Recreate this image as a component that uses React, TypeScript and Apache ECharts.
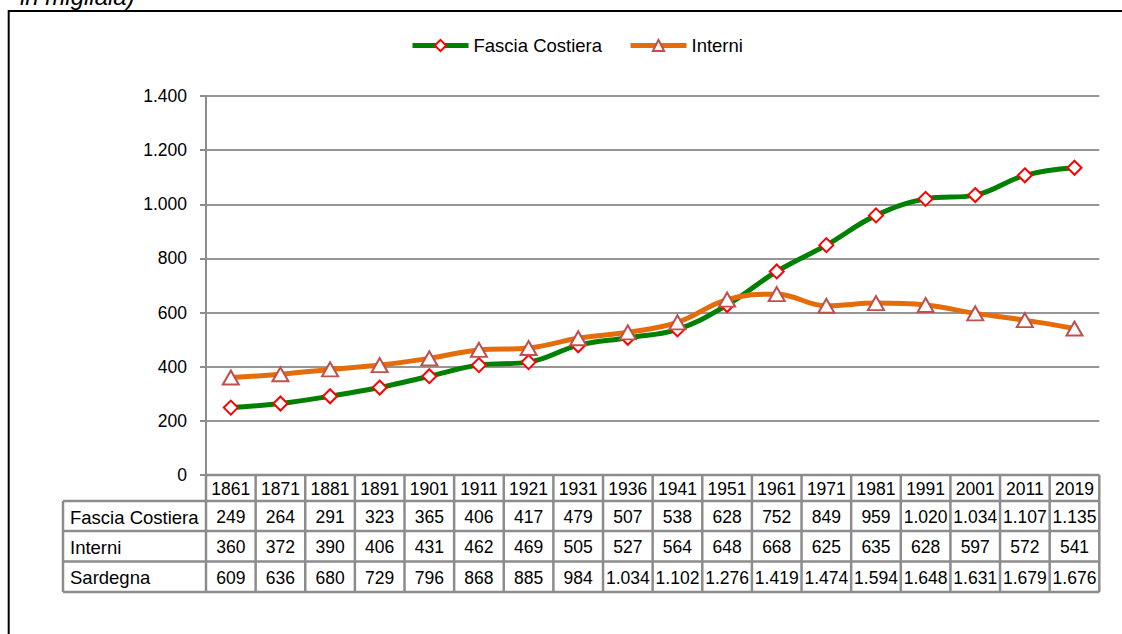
import React, { useEffect, useRef } from "react";
import * as echarts from "echarts";

const years = ["1861", "1871", "1881", "1891", "1901", "1911", "1921", "1931", "1936", "1941", "1951", "1961", "1971", "1981", "1991", "2001", "2011", "2019"];
const fascia = [249, 264, 291, 323, 365, 406, 417, 479, 507, 538, 628, 752, 849, 959, 1020, 1034, 1107, 1135];
const interni = [360, 372, 390, 406, 431, 462, 469, 505, 527, 564, 648, 668, 625, 635, 628, 597, 572, 541];
const sardegna = [609, 636, 680, 729, 796, 868, 885, 984, 1034, 1102, 1276, 1419, 1474, 1594, 1648, 1631, 1679, 1676];
const seriesNames = ["Fascia Costiera", "Interni"];
const tableRowNames = ["Fascia Costiera", "Interni", "Sardegna"];
const titleText = "in migliaia)";

const FONT = '"Liberation Sans", Arial, sans-serif';
const FS = 17.5;
const FS_NAME = 18.5;

const fmt = (v: number) => String(v).replace(/\B(?=(\d{3})+(?!\d))/g, ".");

export default function App() {
  const ref = useRef<HTMLDivElement>(null);
  useEffect(() => {
    const chart = echarts.init(ref.current!, null, { renderer: "svg" });
    const gridLeft = 206;
    const gridRight = 1099.3;
    const gridTop = 96;
    const gridBottom = 475;
    chart.setOption({
      animation: false,
      textStyle: { fontFamily: FONT },
      grid: { left: gridLeft, right: 1122 - gridRight, top: gridTop, bottom: 634 - gridBottom, containLabel: false },
      legend: {
        data: seriesNames,
        left: 410,
        top: 36,
        padding: 0,
        itemWidth: 56,
        itemHeight: 14,
        itemGap: 26,
        lineStyle: { width: 5 },
        textStyle: { fontSize: FS_NAME, color: "#000", fontFamily: FONT },
      },
      xAxis: {
        type: "category",
        data: years,
        boundaryGap: true,
        axisLine: { show: false },
        axisTick: { show: false },
        axisLabel: { show: false },
        splitLine: { show: false },
      },
      yAxis: {
        type: "value",
        min: 0,
        max: 1400,
        interval: 200,
        axisLine: { show: true, lineStyle: { color: "#8c8c8c", width: 2 } },
        axisTick: { show: true, length: 6, lineStyle: { color: "#8c8c8c", width: 2 } },
        axisLabel: { formatter: fmt, color: "#000", fontSize: FS, fontFamily: FONT, margin: 19 },
        splitLine: { show: true, lineStyle: { color: "#969696", width: 2 } },
      },
      series: [
        {
          name: seriesNames[0],
          type: "line",
          data: fascia,
          smooth: 0.4,
          showAllSymbol: true,
          symbol: "diamond",
          symbolSize: 14,
          color: "#008000",
          lineStyle: { color: "#008000", width: 5 },
          itemStyle: { color: "#ffffff", borderColor: "#ff0000", borderWidth: 2 },
        },
        {
          name: seriesNames[1],
          type: "line",
          data: interni,
          smooth: 0.4,
          showAllSymbol: true,
          symbol: "triangle",
          symbolSize: [16, 14],
          color: "#E46C0A",
          lineStyle: { color: "#E46C0A", width: 5 },
          itemStyle: { color: "#ffffff", borderColor: "#C0504D", borderWidth: 2 },
        },
      ],
    });

    const c0 = chart.convertToPixel({ xAxisIndex: 0 }, 0) as number;
    const c1 = chart.convertToPixel({ xAxisIndex: 0 }, 1) as number;
    const colW = c1 - c0;
    const centers = years.map((_, i) => chart.convertToPixel({ xAxisIndex: 0 }, i) as number);
    const tableLeft = 63;
    const rowYs = [475, 501, 531, 561.5, 592];
    const stroke = "#8c8c8c";
    const lw = 2.5;
    const els: any[] = [];
    const line = (x1: number, y1: number, x2: number, y2: number, color = stroke, w = lw) =>
      els.push({ type: "line", silent: true, shape: { x1, y1, x2, y2 }, style: { stroke: color, lineWidth: w } });
    const rightX = centers[centers.length - 1] + colW / 2;
    line(gridLeft, rowYs[0], rightX, rowYs[0]);
    for (let r = 1; r < rowYs.length; r++) line(tableLeft, rowYs[r], rightX, rowYs[r]);
    line(tableLeft, rowYs[1], tableLeft, rowYs[4]);
    for (let i = 0; i <= years.length; i++) {
      const x = centers[0] - colW / 2 + i * colW;
      line(x, rowYs[0], x, rowYs[4]);
    }
    const txt = (text: string, x: number, y: number, align = "center", size = FS) =>
      els.push({
        type: "text",
        silent: true,
        x,
        y,
        style: { text, fill: "#000", fontSize: size, fontFamily: FONT, align, verticalAlign: "middle" },
      });
    years.forEach((y, i) => txt(y, centers[i], (rowYs[0] + rowYs[1]) / 2 + 1));
    const rows = [fascia, interni, sardegna];
    rows.forEach((vals, r) => {
      const cy = (rowYs[r + 1] + rowYs[r + 2]) / 2 + 1;
      txt(tableRowNames[r], 70, cy, "left", FS_NAME);
      vals.forEach((v, i) => txt(fmt(v), centers[i], cy));
    });
    line(8.7, 11, 1122, 11, "#000", 2);
    line(8.7, 10, 8.7, 634, "#000", 2);
    els.push({
      type: "text",
      silent: true,
      x: 20,
      y: 8,
      style: { text: titleText, fill: "#000", fontSize: 24, fontStyle: "italic", fontFamily: FONT, align: "left", verticalAlign: "bottom" },
    });
    chart.setOption({ graphic: els });
    return () => chart.dispose();
  }, []);
  return <div ref={ref} style={{ position: "absolute", left: 0, top: 0, width: 1122, height: 634, background: "#fff" }} />;
}
